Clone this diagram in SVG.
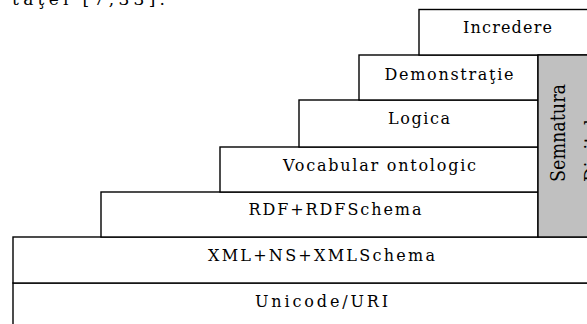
<svg xmlns="http://www.w3.org/2000/svg" width="587" height="324" viewBox="0 0 587 324">
<style>
.box{fill:#fff;stroke:#000;stroke-width:1.4}
.sig{fill:#c0c0c0;stroke:#000;stroke-width:1.4}
.lbl{font-family:"DejaVu Serif","Liberation Serif",serif;font-size:16px;fill:#000;text-anchor:middle}
.vt{font-family:"DejaVu Serif","Liberation Serif",serif;font-size:21px;fill:#000}
.cap{font-family:"DejaVu Serif","Liberation Serif",serif;font-size:17px;fill:#000}
</style>
<rect width="587" height="324" fill="#fff"/>
<text class="cap" x="12" y="5" textLength="153" lengthAdjust="spacing">taţei [7,33].</text>
<g id="unicode">
<rect class="box" x="13" y="283" width="600" height="60"/>
<text class="lbl" x="321.5" y="306.5" textLength="133" lengthAdjust="spacing">Unicode/URI</text>
</g>
<g id="xml">
<rect class="box" x="13" y="237" width="600" height="46"/>
<text class="lbl" x="321.5" y="260.5" textLength="227" lengthAdjust="spacing">XML+NS+XMLSchema</text>
</g>
<g id="rdf">
<rect class="box" x="101" y="192" width="437" height="45"/>
<text class="lbl" x="335" y="215" textLength="173" lengthAdjust="spacing">RDF+RDFSchema</text>
</g>
<g id="vocabular">
<rect class="box" x="220" y="147" width="318" height="45"/>
<text class="lbl" x="379.5" y="171" textLength="193" lengthAdjust="spacing">Vocabular ontologic</text>
</g>
<g id="logica">
<rect class="box" x="299" y="100" width="239" height="47"/>
<text class="lbl" x="419" y="124" textLength="62" lengthAdjust="spacing">Logica</text>
</g>
<g id="demonstratie">
<rect class="box" x="359" y="55" width="179" height="45"/>
<text class="lbl" x="449" y="80" textLength="129" lengthAdjust="spacing">Demonstraţie</text>
</g>
<g id="incredere">
<rect class="box" x="419" y="9.5" width="200" height="45.5"/>
<text class="lbl" x="507.5" y="33" textLength="89" lengthAdjust="spacing">Incredere</text>
</g>
<g id="semnatura">
<rect class="sig" x="538" y="55" width="80" height="182"/>
<text class="vt" transform="translate(565 182) rotate(-90)" textLength="98" lengthAdjust="spacingAndGlyphs">Semnatura</text>
<text class="vt" transform="translate(599 182) rotate(-90)" textLength="74" lengthAdjust="spacingAndGlyphs">Digitala</text>
</g>
<g id="connectors"></g>
</svg>
